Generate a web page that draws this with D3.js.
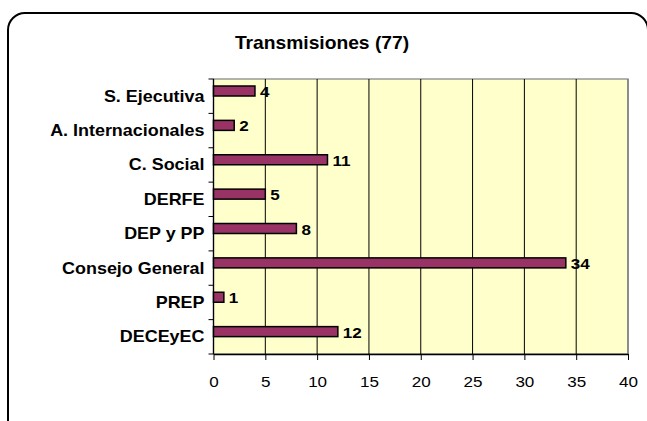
<!DOCTYPE html>
<html>
<head>
<meta charset="utf-8">
<script src="https://cdn.jsdelivr.net/npm/d3@7"></script>
<style>
  body { margin: 0; background: #fff; }
  svg { display: block; font-family: Arial, "Liberation Sans", sans-serif; }
</style>
</head>
<body>
<svg id="chart" width="647" height="421"></svg>
<script>
// data
const categories = ["S. Ejecutiva", "A. Internacionales", "C. Social", "DERFE",
                    "DEP y PP", "Consejo General", "PREP", "DECEyEC"];
const values = [4, 2, 11, 5, 8, 34, 1, 12];
const xTicks = [0, 5, 10, 15, 20, 25, 30, 35, 40];
const title = "Transmisiones (77)";

const svg = d3.select("#chart");
const margin = { top: 79, left: 213.5, right: 19, bottom: 67 };
const width = 647 - margin.left - margin.right,
      height = 421 - margin.top - margin.bottom;
const stretch = 1.1; // reference text is a little wide

// outer rounded frame
svg.append("rect")
  .attr("x", 8).attr("y", 13)
  .attr("width", 640).attr("height", 440)
  .attr("rx", 17).attr("ry", 17)
  .attr("fill", "#fff")
  .attr("stroke", "#000")
  .attr("stroke-width", 2);

svg.append("text")
  .attr("transform", `translate(322,49) scale(${stretch},1)`)
  .attr("text-anchor", "middle")
  .style("font-size", "17.5px")
  .style("font-weight", "bold")
  .text(title);

const g = svg.append("g").attr("transform", `translate(${margin.left},${margin.top})`);

const x = d3.scaleLinear().domain([0, 40]).range([0, width]);
const y = d3.scaleBand().domain(categories).range([0, height]);

// plot background
g.append("rect")
  .attr("width", width).attr("height", height)
  .attr("fill", "#ffffcc")
  .attr("stroke", "#808080")
  .attr("stroke-width", 1.2);

// gridlines
g.selectAll(".grid")
  .data(xTicks.slice(1))
  .enter()
  .append("line")
  .attr("x1", d => x(d)).attr("x2", d => x(d))
  .attr("y1", 0).attr("y2", height)
  .attr("stroke", d => d === 40 ? "#808080" : "#000")
  .attr("stroke-width", d => d === 40 ? 1.5 : 1);

// bottom axis
const xAxis = g.append("g")
  .attr("transform", `translate(0,${height})`)
  .call(d3.axisBottom(x).tickValues(xTicks).tickSize(6).tickSizeOuter(0));
xAxis.select(".domain").attr("stroke", "#000").attr("stroke-width", 1.3);
xAxis.selectAll(".tick text")
  .attr("y", null).attr("dy", null)
  .attr("transform", `translate(0,33) scale(${stretch},1)`)
  .style("font-size", "15.5px").attr("fill", "#000")
  .style("font-family", "Arial, 'Liberation Sans', sans-serif");

// left axis: ticks at category boundaries
g.append("line")
  .attr("x1", 0).attr("x2", 0).attr("y1", 0).attr("y2", height)
  .attr("stroke", "#000").attr("stroke-width", 1.3);
g.selectAll(".ytick")
  .data(d3.range(categories.length + 1))
  .enter()
  .append("line")
  .attr("x1", -5).attr("x2", 0)
  .attr("y1", i => i * y.step()).attr("y2", i => i * y.step())
  .attr("stroke", "#000").attr("stroke-width", 1);

g.selectAll(".ylabel")
  .data(categories)
  .enter()
  .append("text")
  .attr("transform", d => `translate(-9,${y(d) + y.bandwidth() / 2 + 5.5}) scale(${stretch},1)`)
  .attr("text-anchor", "end")
  .style("font-size", "16.3px")
  .style("font-weight", "bold")
  .text(d => d);

// bars (upper part of each band)
const barOff = 7, barH = 10;
g.selectAll(".bar")
  .data(values)
  .enter()
  .append("rect")
  .attr("x", 0)
  .attr("y", (d, i) => y(categories[i]) + barOff)
  .attr("width", d => x(d))
  .attr("height", barH)
  .attr("fill", "#993366")
  .attr("stroke", "#000")
  .attr("stroke-width", 1.5);

g.selectAll(".val")
  .data(values)
  .enter()
  .append("text")
  .attr("transform", (d, i) => `translate(${x(d) + 5},${y(categories[i]) + barOff + barH + 1}) scale(${stretch},1)`)
  .style("font-size", "15.5px")
  .style("font-weight", "bold")
  .text(d => d);
</script>
</body>
</html>
